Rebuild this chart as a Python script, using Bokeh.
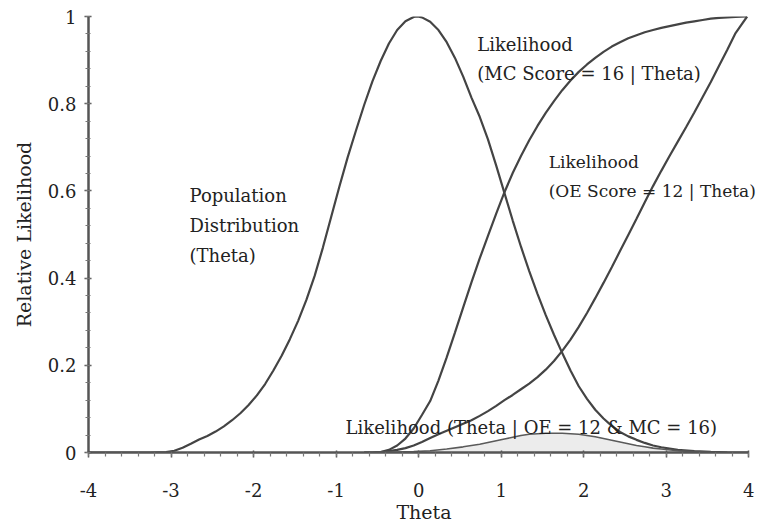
from bokeh.plotting import figure
from bokeh.models import Range1d, FixedTicker, Label
from bokeh.embed import file_html
from bokeh.resources import INLINE

# --- data ---
theta_pop = [-4.0, -3.56, -3.26, -3.06, -2.96, -2.86, -2.76, -2.66, -2.56, -2.46, -2.36, -2.26,
             -2.16, -2.06, -1.96, -1.86, -1.76, -1.66, -1.56, -1.46, -1.36, -1.26, -1.16, -1.06,
             -0.96, -0.86, -0.76, -0.66, -0.56, -0.46, -0.36, -0.26, -0.16, -0.06, -0.01, 0.04,
             0.14, 0.24, 0.34, 0.44, 0.54, 0.64, 0.74, 0.84, 0.94, 1.04, 1.14, 1.24, 1.34, 1.44,
             1.54, 1.64, 1.74, 1.84, 1.94, 2.04, 2.14, 2.24, 2.34, 2.44, 2.54, 2.64, 2.74, 2.84,
             2.94, 3.14, 3.34, 3.54, 3.74, 4.0]
population = [0.0, 0.0, 0.0, 0.001, 0.004, 0.011, 0.02, 0.03, 0.038, 0.048, 0.06, 0.074, 0.09,
              0.109, 0.131, 0.157, 0.188, 0.222, 0.26, 0.302, 0.35, 0.405, 0.47, 0.54, 0.61,
              0.677, 0.738, 0.797, 0.851, 0.898, 0.938, 0.969, 0.989, 0.999, 1.0, 0.998, 0.988,
              0.969, 0.941, 0.905, 0.862, 0.814, 0.77, 0.718, 0.658, 0.595, 0.532, 0.472, 0.416,
              0.364, 0.315, 0.27, 0.228, 0.188, 0.152, 0.123, 0.098, 0.078, 0.061, 0.047, 0.037,
              0.029, 0.022, 0.016, 0.012, 0.006, 0.003, 0.0015, 0.0005, 0.0]

theta_lik = [-0.66, -0.56, -0.46, -0.36, -0.26, -0.16, -0.06, 0.04, 0.14, 0.24, 0.34, 0.44,
             0.54, 0.64, 0.74, 0.84, 0.94, 1.04, 1.14, 1.24, 1.34, 1.44, 1.54, 1.64, 1.74, 1.84,
             1.94, 2.04, 2.14, 2.24, 2.34, 2.44, 2.54, 2.64, 2.74, 2.84, 2.94, 3.04, 3.14, 3.24,
             3.34, 3.44, 3.54, 3.64, 3.74, 3.84, 3.98]
mc_likelihood = [0.0, 0.0, 0.001, 0.006, 0.016, 0.032, 0.055, 0.086, 0.118, 0.165, 0.218,
                 0.275, 0.333, 0.39, 0.445, 0.497, 0.548, 0.597, 0.641, 0.68, 0.716, 0.749,
                 0.779, 0.806, 0.831, 0.853, 0.873, 0.89, 0.905, 0.919, 0.931, 0.941, 0.95,
                 0.957, 0.964, 0.969, 0.974, 0.978, 0.982, 0.986, 0.989, 0.992, 0.995, 0.997,
                 0.998, 0.999, 1.0]
oe_likelihood = [0.0, 0.0, 0.001, 0.003, 0.006, 0.01, 0.016, 0.024, 0.033, 0.042, 0.05, 0.058,
                 0.066, 0.074, 0.084, 0.095, 0.107, 0.12, 0.132, 0.145, 0.158, 0.173, 0.19,
                 0.21, 0.233, 0.259, 0.288, 0.32, 0.354, 0.389, 0.425, 0.462, 0.499, 0.536,
                 0.574, 0.611, 0.646, 0.68, 0.713, 0.746, 0.78, 0.815, 0.85, 0.887, 0.924,
                 0.962, 1.0]

theta_post = [-0.46, -0.26, -0.06, 0.14, 0.34, 0.54, 0.74, 0.84, 0.94, 1.04, 1.14, 1.24, 1.34,
              1.44, 1.54, 1.64, 1.74, 1.84, 1.94, 2.04, 2.14, 2.24, 2.34, 2.44, 2.54, 2.64, 2.74,
              2.84, 2.94, 3.14, 3.34, 3.54]
posterior = [0.0, 0.001, 0.002, 0.004, 0.008, 0.013, 0.019, 0.023, 0.027, 0.031, 0.035, 0.039,
             0.042, 0.043, 0.044, 0.044, 0.044, 0.043, 0.042, 0.039, 0.036, 0.032, 0.028, 0.024,
             0.02, 0.016, 0.013, 0.01, 0.008, 0.004, 0.002, 0.0]

x_ticks = [-4, -3, -2, -1, 0, 1, 2, 3, 4]
x_tick_labels = ["-4", "-3", "-2", "-1", "0", "1", "2", "3", "4"]
y_ticks = [0, 0.2, 0.4, 0.6, 0.8, 1.0]
y_tick_labels = ["0", "0.2", "0.4", "0.6", "0.8", "1"]

# (text, x, y, font size)
annotations = [
    ("Population", -2.776, 0.590, "18px"),
    ("Distribution", -2.776, 0.521, "18px"),
    ("(Theta)", -2.776, 0.452, "18px"),
    ("Likelihood", 0.71, 0.935, "18px"),
    ("(MC Score = 16 | Theta)", 0.71, 0.870, "18px"),
    ("Likelihood", 1.576, 0.666, "17px"),
    ("(OE Score = 12 | Theta)", 1.576, 0.600, "17px"),
    ("Likelihood (Theta | OE = 12 & MC = 16)", -0.885, 0.058, "18px"),
]

FONT = "DejaVu Serif"
LINE = "#444444"
TXT = "#222222"

p = figure(width=759, height=525, output_backend="svg", toolbar_location=None,
           x_range=Range1d(-4, 4.13), y_range=Range1d(0, 1),
           min_border_left=88, min_border_right=0, min_border_top=16, min_border_bottom=73)
p.outline_line_color = None
p.xgrid.visible = False
p.ygrid.visible = False
p.background_fill_color = "white"
p.border_fill_color = "white"

p.varea(x=theta_post, y1=[0] * len(theta_post), y2=posterior, fill_color="#cfcfcf", fill_alpha=0.4)
p.line(theta_pop, population, line_color=LINE, line_width=2.2)
p.line(theta_lik, mc_likelihood, line_color=LINE, line_width=2.2)
p.line(theta_lik, oe_likelihood, line_color=LINE, line_width=2.2)
p.line(theta_post, posterior, line_color="#5a5a5a", line_width=1.6)

for txt, ax_, ay_, fs in annotations:
    p.add_layout(Label(x=ax_, y=ay_, text=txt, text_font=FONT, text_font_size=fs,
                       text_color=TXT, text_baseline="alphabetic", text_align="left"))

for ax in (p.xaxis[0], p.yaxis[0]):
    ax.axis_line_color = "#555555"
    ax.axis_line_width = 2.5
    ax.major_tick_line_color = "#555555"
    ax.minor_tick_line_color = "#777777"
    ax.major_tick_line_width = 1.5
    ax.minor_tick_line_width = 1.2
    ax.major_label_text_font = FONT
    ax.major_label_text_font_size = "18px"
    ax.major_label_text_color = TXT
    ax.axis_label_text_font = FONT
    ax.axis_label_text_font_size = "19px"
    ax.axis_label_text_font_style = "normal"
    ax.axis_label_text_color = TXT

p.xaxis.bounds = (-4, 4)
p.xaxis.ticker = FixedTicker(ticks=x_ticks, minor_ticks=[round(-4 + 0.2 * i, 2) for i in range(41)])
p.yaxis.ticker = FixedTicker(ticks=y_ticks, minor_ticks=[round(0.04 * i, 2) for i in range(26)])
p.xaxis.major_label_overrides = dict(zip(x_ticks, x_tick_labels))
p.yaxis.major_label_overrides = dict(zip(y_ticks, y_tick_labels))
p.xaxis.axis_label = "Theta"
p.yaxis.axis_label = "Relative Likelihood"

p.xaxis.major_tick_out = 5
p.xaxis.major_tick_in = 2
p.xaxis.minor_tick_out = 4
p.xaxis.minor_tick_in = 0
p.xaxis.major_label_standoff = 25
p.xaxis.axis_label_standoff = 1

p.yaxis.major_tick_out = 4
p.yaxis.major_tick_in = 3
p.yaxis.minor_tick_out = 3
p.yaxis.minor_tick_in = 2
p.yaxis.major_label_standoff = 8
p.yaxis.axis_label_standoff = 10

open("out.html", "w").write(file_html(p, INLINE))
